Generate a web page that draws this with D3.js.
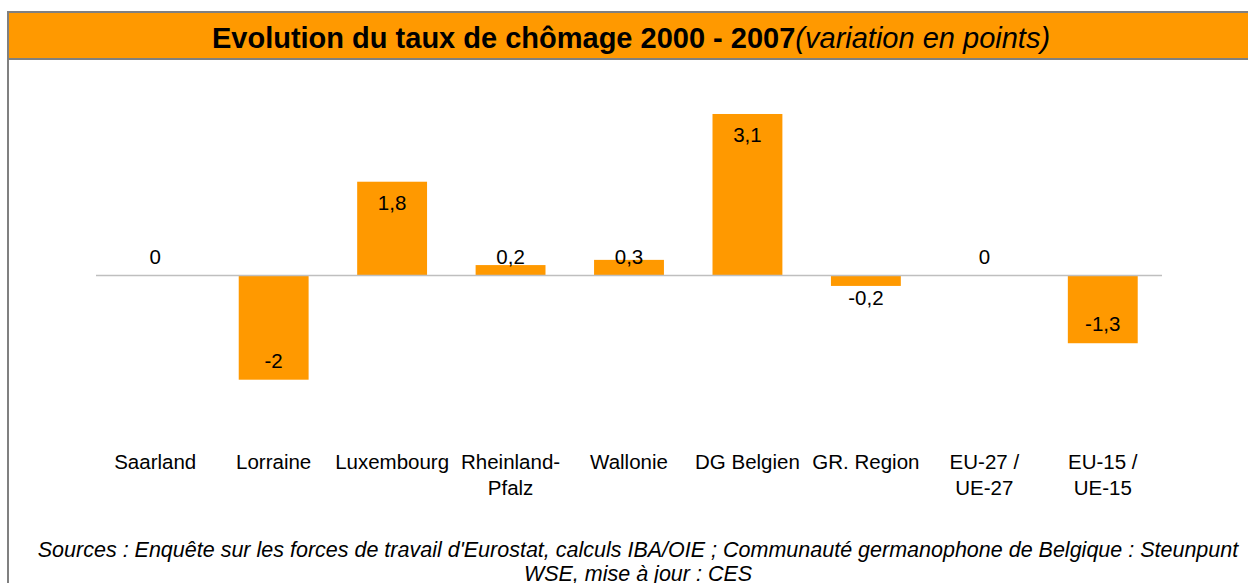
<!DOCTYPE html>
<html>
<head>
<meta charset="utf-8">
<script src="https://cdn.jsdelivr.net/npm/d3@7"></script>
<style>
  body { margin: 0; background: #fff; }
  svg { display: block; font-family: "Liberation Sans", Arial, sans-serif; }
</style>
</head>
<body>
<svg id="chart"></svg>
<script>
const width = 1248;
const height = 583;

// data
const categories = ["Saarland", "Lorraine", "Luxembourg", "Rheinland-Pfalz", "Wallonie", "DG Belgien", "GR. Region", "EU-27 / UE-27", "EU-15 / UE-15"];
const labelLines = [["Saarland"], ["Lorraine"], ["Luxembourg"], ["Rheinland-", "Pfalz"], ["Wallonie"], ["DG Belgien"], ["GR. Region"], ["EU-27 /", "UE-27"], ["EU-15 /", "UE-15"]];
const values = [0, -2, 1.8, 0.2, 0.3, 3.1, -0.2, 0, -1.3];
const valueLabels = ["0", "-2", "1,8", "0,2", "0,3", "3,1", "-0,2", "0", "-1,3"];

const orange = "#ff9900";

const svg = d3.select("#chart")
  .attr("width", width)
  .attr("height", height);

// frame + title band
svg.append("rect")
  .attr("x", 8).attr("y", 12)
  .attr("width", 1260).attr("height", 600)
  .attr("fill", "#fff")
  .attr("stroke", "#808080")
  .attr("stroke-width", 2);

svg.append("rect")
  .attr("x", 8).attr("y", 12)
  .attr("width", 1260).attr("height", 47)
  .attr("fill", orange)
  .attr("stroke", "#808080")
  .attr("stroke-width", 2);

const title = svg.append("text")
  .attr("x", 631)
  .attr("y", 48)
  .attr("text-anchor", "middle")
  .attr("font-size", "29px")
  .attr("fill", "#000");
title.append("tspan").attr("font-weight", "bold").text("Evolution du taux de chômage 2000 - 2007");
title.append("tspan").attr("font-style", "italic").text("(variation en points)");

// scales
const x = d3.scaleBand()
  .domain(categories)
  .range([96, 1162])
  .paddingInner(0.41)
  .paddingOuter(0.205);

const y = d3.scaleLinear()
  .domain([-2.5, 3.5])
  .range([275.5 + 2.5 * 52.1, 275.5 - 3.5 * 52.1]);

const y0 = y(0);

svg.append("g")
  .selectAll("rect")
  .data(values)
  .enter()
  .append("rect")
  .attr("x", (d, i) => x(categories[i]))
  .attr("y", d => y(Math.max(0, d)))
  .attr("width", x.bandwidth())
  .attr("height", d => Math.abs(y(d) - y0))
  .attr("fill", orange);

// zero line
svg.append("line")
  .attr("x1", 96).attr("x2", 1162)
  .attr("y1", y0).attr("y2", y0)
  .attr("stroke", "#bfbfbf")
  .attr("stroke-width", 1.5);

// value labels
svg.append("g")
  .selectAll("text")
  .data(values)
  .enter()
  .append("text")
  .attr("x", (d, i) => x(categories[i]) + x.bandwidth() / 2)
  .attr("y", d => d >= 0 ? Math.min(y(d) + 28, y0 - 12) : Math.max(y(d) - 12, y0 + 29))
  .attr("text-anchor", "middle")
  .attr("font-size", "20.5px")
  .attr("fill", "#000")
  .text((d, i) => valueLabels[i]);

// category labels
const cat = svg.append("g")
  .selectAll("text")
  .data(labelLines)
  .enter()
  .append("text")
  .attr("x", (d, i) => x(categories[i]) + x.bandwidth() / 2)
  .attr("y", 469)
  .attr("text-anchor", "middle")
  .attr("font-size", "20.5px")
  .attr("fill", "#000");

cat.selectAll("tspan")
  .data(d => d)
  .enter()
  .append("tspan")
  .attr("x", function() { return d3.select(this.parentNode).attr("x"); })
  .attr("dy", (d, i) => i === 0 ? 0 : 26)
  .text(d => d);

// sources
const src = svg.append("text")
  .attr("x", 638)
  .attr("y", 557)
  .attr("text-anchor", "middle")
  .attr("font-size", "21.5px")
  .attr("font-style", "italic")
  .attr("fill", "#000");
src.append("tspan").attr("x", 638)
  .text("Sources : Enquête sur les forces de travail d'Eurostat, calculs IBA/OIE ; Communauté germanophone de Belgique : Steunpunt");
src.append("tspan").attr("x", 638).attr("dy", 24)
  .text("WSE, mise à jour : CES");
</script>
</body>
</html>
